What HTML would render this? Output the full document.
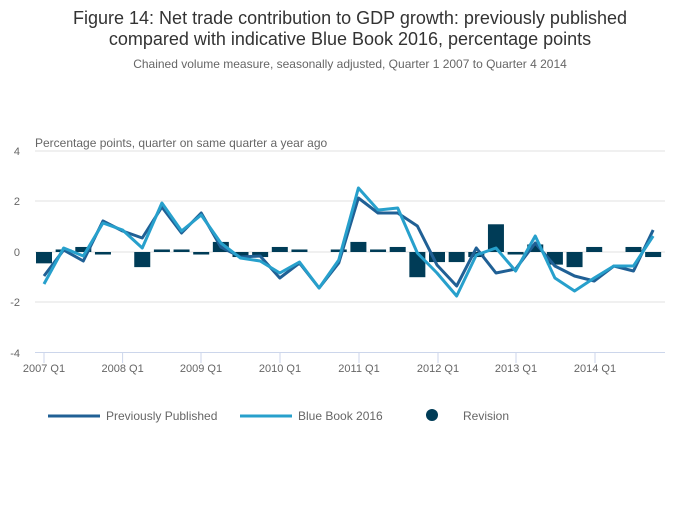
<!DOCTYPE html><html><head><style>body{margin:0;background:#fff;font-family:"Liberation Sans",sans-serif}</style></head><body>
<svg width="700" height="502" xmlns="http://www.w3.org/2000/svg" font-family="Liberation Sans, sans-serif">
<text x="350" y="24" font-size="18" fill="#333" text-anchor="middle">Figure 14: Net trade contribution to GDP growth: previously published</text>
<text x="350" y="45" font-size="18" fill="#333" text-anchor="middle">compared with indicative Blue Book 2016, percentage points</text>
<text x="350" y="68" font-size="12" fill="#666" text-anchor="middle">Chained volume measure, seasonally adjusted, Quarter 1 2007 to Quarter 4 2014</text>
<text x="35" y="147" font-size="12" fill="#666">Percentage points, quarter on same quarter a year ago</text>
<g stroke="#e2e2e2" stroke-width="1">
<line x1="35" x2="665" y1="151" y2="151"/><line x1="35" x2="665" y1="201" y2="201"/><line x1="35" x2="665" y1="252" y2="252"/><line x1="35" x2="665" y1="302" y2="302"/></g>
<line x1="35" x2="665" y1="352.5" y2="352.5" stroke="#ccd6eb"/>
<g font-size="11" fill="#666" text-anchor="end"><text x="20" y="155">4</text><text x="20" y="205">2</text><text x="20" y="256">0</text><text x="20" y="306">-2</text><text x="20" y="357">-4</text></g>
<g stroke="#ccd6eb"><line x1="44" x2="44" y1="353" y2="363"/><line x1="122.6" x2="122.6" y1="353" y2="363"/><line x1="201" x2="201" y1="353" y2="363"/><line x1="280" x2="280" y1="353" y2="363"/><line x1="359" x2="359" y1="353" y2="363"/><line x1="438" x2="438" y1="353" y2="363"/><line x1="516" x2="516" y1="353" y2="363"/><line x1="595" x2="595" y1="353" y2="363"/></g>
<g font-size="11" fill="#666" text-anchor="middle"><text x="44" y="372">2007 Q1</text><text x="122.6" y="372">2008 Q1</text><text x="201" y="372">2009 Q1</text><text x="280" y="372">2010 Q1</text><text x="359" y="372">2011 Q1</text><text x="438" y="372">2012 Q1</text><text x="516" y="372">2013 Q1</text><text x="595" y="372">2014 Q1</text></g>
<g fill="#003c57" id="bars"></g>
<polyline id="pp" fill="none" stroke="#206095" stroke-width="3" stroke-linejoin="round"/>
<polyline id="bb" fill="none" stroke="#27a0cc" stroke-width="3" stroke-linejoin="round"/>
<line x1="48" x2="100" y1="416" y2="416" stroke="#206095" stroke-width="3"/><text x="106" y="420" font-size="12" fill="#666">Previously Published</text>
<line x1="240" x2="292" y1="416" y2="416" stroke="#27a0cc" stroke-width="3"/><text x="298" y="420" font-size="12" fill="#666">Blue Book 2016</text>
<circle cx="432" cy="415" r="6" fill="#003c57"/><text x="463" y="420" font-size="12" fill="#666">Revision</text>
</svg>
<script>
var pp=[276,250,261,221,231,238,207,233,213,247,257,256,278,263,288,263,198,213,213,226,265,286,248,273,269,243,266,276,281,266,271,230];
var bb=[284,248,256,223,230,248,203,231,215,243,258,261,273,262,288,260,188,210,208,253,273,296,255,248,271,236,278,291,278,266,266,236];
var rv=[-0.45,0.1,0.2,-0.1,0,-0.6,0.1,0.1,-0.1,0.4,-0.2,-0.2,0.2,0.1,0,0.1,0.4,0.1,0.2,-1.0,-0.4,-0.4,-0.2,1.1,-0.1,0.3,-0.5,-0.6,0.2,0,0.2,-0.2];
function X(i){return 44+19.65*i}
document.getElementById('pp').setAttribute('points',pp.map((y,i)=>X(i)+','+y).join(' '));
document.getElementById('bb').setAttribute('points',bb.map((y,i)=>X(i)+','+y).join(' '));
var g=document.getElementById('bars'),s='';
rv.forEach((v,i)=>{if(!v)return;var h=Math.abs(v)*25.2,y=v>0?252-h:252;s+='<rect x="'+(X(i)-8)+'" y="'+y+'" width="16" height="'+h+'"/>';});
g.innerHTML=s;
</script>
</body></html>
